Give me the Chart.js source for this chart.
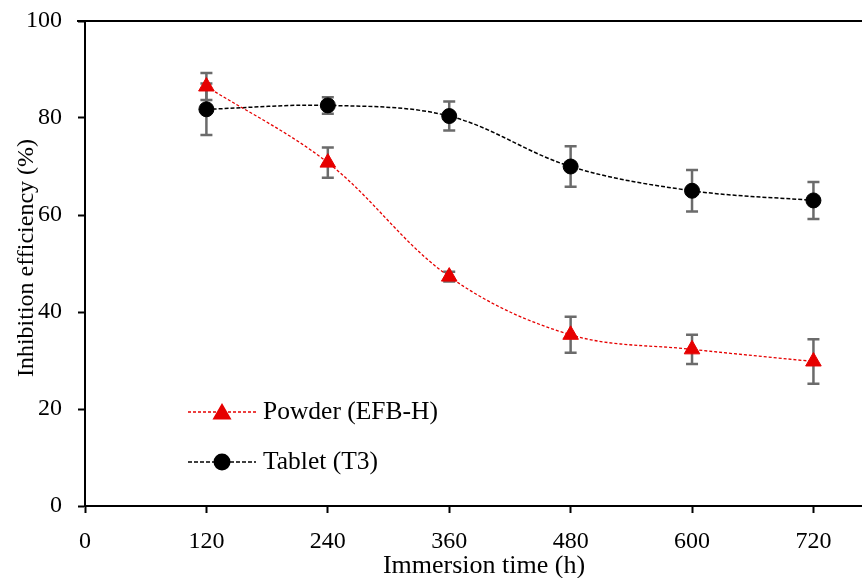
<!DOCTYPE html>
<html>
<head>
<meta charset="utf-8">
<script src="https://cdn.jsdelivr.net/npm/chart.js@4.4.1/dist/chart.umd.min.js"></script>
<style>
html, body { margin: 0; padding: 0; background: #fff; }
</style>
</head>
<body>
<canvas id="chart" width="862" height="578"></canvas>
<script>
// datos
const hours = [120, 240, 360, 480, 600, 720];
const powder = [86.5, 70.8, 47.3, 35.3, 32.3, 29.8];
const powderErr = [2.8, 3.1, 1.0, 3.7, 3.0, 4.6];
const tablet = [81.8, 82.6, 80.4, 70.0, 65.0, 63.0];
const tabletErr = [5.3, 1.7, 3.0, 4.2, 4.3, 3.8];
const xTicks = [0, 120, 240, 360, 480, 600, 720];
const yTicks = [0, 20, 40, 60, 80, 100];
const seriesNames = ['Powder (EFB-H)', 'Tablet (T3)'];
const xTitle = 'Immersion time (h)';
const yTitle = 'Inhibition efficiency (%)';

const FONT = '"Liberation Serif", "Times New Roman", serif';
const RED = '#e60000';

// barras de error, debajo de los marcadores
const errorBars = {
    id: 'errorBars',
    beforeDatasetsDraw(chart) {
        const { ctx, scales: { x, y } } = chart;
        ctx.save();
        ctx.strokeStyle = '#6b6b6b';
        ctx.lineWidth = 2.5;
        [[powder, powderErr], [tablet, tabletErr]].forEach(([vals, errs]) => {
            vals.forEach((v, i) => {
                const px = x.getPixelForValue(hours[i]);
                const top = y.getPixelForValue(v + errs[i]);
                const bot = y.getPixelForValue(v - errs[i]);
                ctx.beginPath();
                ctx.moveTo(px, top); ctx.lineTo(px, bot);
                ctx.moveTo(px - 6, top); ctx.lineTo(px + 6, top);
                ctx.moveTo(px - 6, bot); ctx.lineTo(px + 6, bot);
                ctx.stroke();
            });
        });
        ctx.restore();
    }
};

// leyenda dentro del área, títulos de ejes y borde superior
const extras = {
    id: 'extras',
    afterDraw(chart) {
        const { ctx, chartArea } = chart;
        ctx.save();
        ctx.strokeStyle = '#000';
        ctx.lineWidth = 2;
        ctx.beginPath();
        ctx.moveTo(chartArea.left - 8, chartArea.top);
        ctx.lineTo(chartArea.right, chartArea.top);
        ctx.stroke();

        ctx.fillStyle = '#000';
        ctx.textAlign = 'center';
        ctx.textBaseline = 'middle';
        ctx.font = '26px ' + FONT;
        ctx.fillText(xTitle, 484, 566);
        ctx.save();
        ctx.translate(27, 258);
        ctx.rotate(-Math.PI / 2);
        ctx.font = '24px ' + FONT;
        ctx.fillText(yTitle, 0, 0);
        ctx.restore();

        const rows = [
            { y: 412, color: RED, dash: [3, 2], style: 'triangle', r: 9 },
            { y: 462, color: '#000', dash: [4, 2], style: 'circle', r: 7.5 }
        ];
        rows.forEach((row, i) => {
            ctx.save();
            ctx.strokeStyle = row.color;
            ctx.lineWidth = 1.3;
            ctx.setLineDash(row.dash);
            ctx.beginPath();
            ctx.moveTo(188, row.y); ctx.lineTo(256, row.y);
            ctx.stroke();
            ctx.restore();
            ctx.fillStyle = row.color;
            ctx.strokeStyle = row.color;
            Chart.helpers.drawPoint(ctx, { pointStyle: row.style, radius: row.r, borderWidth: 1 }, 222, row.y + (row.style === 'triangle' ? 2 : 0));
            ctx.fillStyle = '#000';
            ctx.font = '25.5px ' + FONT;
            ctx.textAlign = 'left';
            ctx.textBaseline = 'middle';
            ctx.fillText(seriesNames[i], 263, row.y);
        });
        ctx.restore();
    }
};

new Chart(document.getElementById('chart'), {
    type: 'line',
    data: {
        datasets: [{
            label: seriesNames[0],
            data: hours.map((h, i) => ({ x: h, y: powder[i] })),
            borderColor: RED,
            backgroundColor: RED,
            borderWidth: 1.3,
            borderDash: [3, 2],
            tension: 0.35,
            pointStyle: 'triangle',
            pointRadius: 9,
            pointBorderWidth: 1,
            fill: false
        }, {
            label: seriesNames[1],
            data: hours.map((h, i) => ({ x: h, y: tablet[i] })),
            borderColor: '#000',
            backgroundColor: '#000',
            borderWidth: 1.5,
            borderDash: [4, 2],
            tension: 0.35,
            pointStyle: 'circle',
            pointRadius: 7.5,
            pointBorderWidth: 1,
            fill: false
        }]
    },
    options: {
        responsive: false,
        animation: false,
        layout: { autoPadding: false, padding: { top: 21, left: 0, right: 0, bottom: 0 } },
        plugins: { legend: { display: false }, tooltip: { enabled: false } },
        scales: {
            x: {
                type: 'linear',
                min: 0,
                max: 768,
                afterBuildTicks: axis => { axis.ticks = xTicks.map(v => ({ value: v })); },
                afterFit: axis => { axis.height = 72; axis.paddingLeft = 0; axis.paddingRight = 0; },
                border: { display: true, color: '#000', width: 2 },
                grid: { drawOnChartArea: false, drawTicks: true, tickLength: 7, tickColor: '#000', tickWidth: 2 },
                ticks: { color: '#000', font: { family: FONT, size: 24 }, padding: 14, maxRotation: 0 }
            },
            y: {
                min: 0,
                max: 100,
                afterBuildTicks: axis => { axis.ticks = yTicks.map(v => ({ value: v })); },
                afterFit: axis => { axis.width = 85; axis.paddingTop = 0; axis.paddingBottom = 0; },
                border: { display: true, color: '#000', width: 2 },
                grid: { drawOnChartArea: false, drawTicks: true, tickLength: 7, tickColor: '#000', tickWidth: 2 },
                ticks: { color: '#000', font: { family: FONT, size: 24 }, padding: 16 }
            }
        }
    },
    plugins: [errorBars, extras]
});
</script>
</body>
</html>
